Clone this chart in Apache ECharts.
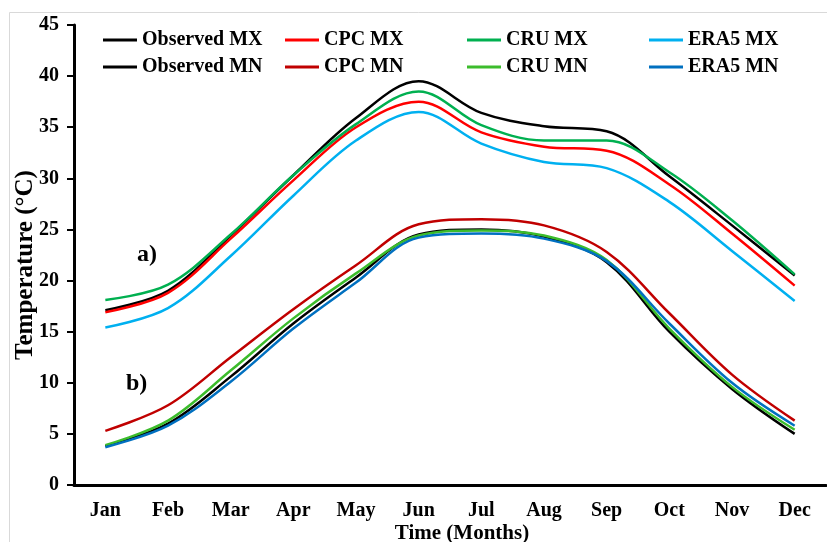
<!DOCTYPE html>
<html>
<head>
<meta charset="utf-8">
<script src="https://cdn.jsdelivr.net/npm/echarts@6/dist/echarts.min.js"></script>
<style>
  html, body { margin: 0; padding: 0; background: #ffffff; }
  #chart { width: 827px; height: 542px; }
</style>
</head>
<body>
<div id="chart"></div>
<script>
// Monthly mean temperature climatology (°C): maximum (MX) and minimum (MN)
const months = ['Jan', 'Feb', 'Mar', 'Apr', 'May', 'Jun', 'Jul', 'Aug', 'Sep', 'Oct', 'Nov', 'Dec'];

const observedMX = [17.1, 19.0, 24.4, 30.3, 35.9, 39.5, 36.4, 35.1, 34.6, 30.2, 25.4, 20.5];
const cpcMX      = [16.9, 18.8, 24.1, 29.8, 35.0, 37.5, 34.5, 33.1, 32.7, 29.4, 24.6, 19.5];
const cruMX      = [18.1, 19.6, 24.5, 30.3, 35.3, 38.5, 35.2, 33.7, 33.7, 30.6, 25.9, 20.6];
const era5MX     = [15.4, 17.3, 22.4, 28.3, 33.7, 36.5, 33.4, 31.6, 31.0, 27.7, 22.9, 18.0];

const observedMN = [3.8, 6.0, 10.6, 15.8, 20.3, 24.5, 25.0, 24.3, 21.8, 15.0, 9.4, 5.0];
const cpcMN      = [5.3, 7.8, 12.5, 17.2, 21.5, 25.5, 26.0, 25.4, 22.8, 16.8, 10.8, 6.3];
const cruMN      = [3.9, 6.3, 11.2, 16.3, 20.7, 24.4, 24.9, 24.4, 22.0, 15.3, 9.6, 5.4];
const era5MN     = [3.7, 5.8, 10.1, 15.3, 19.8, 24.2, 24.6, 24.1, 21.9, 15.8, 10.0, 5.8];

const yTicks = { min: 0, max: 45, interval: 5 };

const FONT = '"Liberation Serif", "Times New Roman", serif';

const seriesDefs = [
  { name: 'Observed MX', data: observedMX, color: '#000000' },
  { name: 'CPC MX',      data: cpcMX,      color: '#ff0000' },
  { name: 'CRU MX',      data: cruMX,      color: '#00b050' },
  { name: 'ERA5 MX',     data: era5MX,     color: '#00b0f0' },
  { name: 'Observed MN', data: observedMN, color: '#000000' },
  { name: 'CPC MN',      data: cpcMN,      color: '#c00000' },
  { name: 'CRU MN',      data: cruMN,      color: '#3cbc2c' },
  { name: 'ERA5 MN',     data: era5MN,     color: '#0070c0' }
];

// legend laid out as a 4 x 2 block, each key a plain line segment
const legendCols = [103, 285, 467, 649];
const legendRows = [30, 57];
const legends = seriesDefs.map((s, i) => ({
  data: [s.name],
  left: legendCols[i % 4],
  top: legendRows[Math.floor(i / 4)],
  icon: 'rect',
  itemWidth: 34,
  itemHeight: 3,
  itemGap: 4,
  padding: 0,
  textStyle: { fontFamily: FONT, fontWeight: 'bold', fontSize: 20, color: '#000' }
}));

const chart = echarts.init(document.getElementById('chart'), null, { renderer: 'canvas' });

chart.setOption({
  backgroundColor: '#ffffff',
  animation: false,
  legend: legends,
  grid: { left: 74, right: 1, top: 25, bottom: 57, containLabel: false, outerBoundsMode: 'none' },
  xAxis: {
    type: 'category',
    data: months,
    boundaryGap: true,
    name: 'Time (Months)',
    nameLocation: 'middle',
    nameGap: 38,
    nameMoveOverlap: false,
    nameTextStyle: { fontFamily: FONT, fontWeight: 'bold', fontSize: 21, color: '#000', padding: [0, 0, 0, 24] },
    axisLine: { lineStyle: { color: '#000', width: 3 } },
    axisTick: { show: false },
    axisLabel: { fontFamily: FONT, fontWeight: 'bold', fontSize: 20, color: '#000', margin: 16 },
    splitLine: { show: false }
  },
  yAxis: {
    type: 'value',
    min: yTicks.min,
    max: yTicks.max,
    interval: yTicks.interval,
    name: 'Temperature (°C)',
    nameLocation: 'middle',
    nameGap: 36,
    nameMoveOverlap: false,
    nameRotate: 90,
    nameTextStyle: { fontFamily: FONT, fontWeight: 'bold', fontSize: 25, color: '#000', padding: [0, 20, 0, 0] },
    axisLine: { show: true, lineStyle: { color: '#000', width: 3 } },
    axisTick: { show: true, length: 7, lineStyle: { color: '#000', width: 2 } },
    axisLabel: { fontFamily: FONT, fontWeight: 'bold', fontSize: 20, color: '#000', margin: 15 },
    splitLine: { show: false }
  },
  graphic: [
    {
      type: 'rect',
      left: 7, top: 10,
      shape: { width: 830, height: 540 },
      style: { fill: 'none', stroke: '#d9d9d9', lineWidth: 1 },
      silent: true
    },
    {
      type: 'text', left: 137, top: 243,
      style: { text: 'a)', font: 'bold 24px ' + FONT, fill: '#000' }
    },
    {
      type: 'text', left: 126, top: 372,
      style: { text: 'b)', font: 'bold 24px ' + FONT, fill: '#000' }
    }
  ],
  series: seriesDefs.map(s => ({
    name: s.name,
    type: 'line',
    data: s.data,
    smooth: 0.35,
    symbol: 'none',
    color: s.color,
    lineStyle: { color: s.color, width: 2.5 }
  }))
});
</script>
</body>
</html>
